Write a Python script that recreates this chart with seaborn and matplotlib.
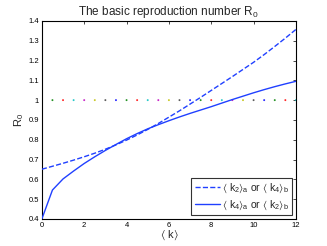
import numpy as np
import pandas as pd
import matplotlib
matplotlib.use("Agg")
import matplotlib.pyplot as plt
import seaborn as sns

# mean degree <k>, sampled every 0.5
k = np.arange(0, 12.5, 0.5)

# <k2>_a or <k4>_b (dashed)
r0_dashed = [0.651, 0.666, 0.681, 0.697, 0.714, 0.732, 0.752, 0.774, 0.798,
             0.824, 0.852, 0.882, 0.914, 0.946, 0.980, 1.014, 1.049, 1.084,
             1.119, 1.155, 1.191, 1.230, 1.271, 1.313, 1.357]
# <k4>_a or <k2>_b (solid)
r0_solid = [0.400, 0.546, 0.602, 0.642, 0.680, 0.714, 0.746, 0.776, 0.805,
            0.831, 0.855, 0.876, 0.896, 0.915, 0.933, 0.950, 0.967, 0.985,
            1.003, 1.020, 1.037, 1.053, 1.068, 1.082, 1.095]
# threshold R0 = 1
threshold = [1.0] * len(k)

label_dashed = r"$\langle$ k$_2\rangle_{\rm a}$ or $\langle$ k$_4\rangle_{\rm b}$"
label_solid = r"$\langle$ k$_4\rangle_{\rm a}$ or $\langle$ k$_2\rangle_{\rm b}$"

# old matlab colour order for the dots
dot_colors = [(0, 0, 1), (0, 0.5, 0), (1, 0, 0), (0, 0.75, 0.75),
              (0.75, 0, 0.75), (0.75, 0.75, 0), (0.25, 0.25, 0.25)]

sns.set_style("white")
plt.rcParams['font.family'] = ['Liberation Sans', 'DejaVu Sans']
plt.rcParams['mathtext.fontset'] = 'custom'
plt.rcParams['mathtext.rm'] = 'Liberation Sans'
plt.rcParams['mathtext.it'] = 'Liberation Sans'
plt.rcParams['mathtext.fallback'] = 'stixsans'

fig = plt.figure(figsize=(3.27, 2.46), dpi=100)
ax = fig.add_axes([0.128, 0.110, 0.777, 0.805])

df_dots = pd.DataFrame({'k': k, 'R0': threshold,
                        'c': [i % 7 for i in range(len(k))]})
sns.scatterplot(data=df_dots, x='k', y='R0', hue='c', palette=dot_colors,
                s=2, linewidth=0, alpha=0.85, legend=False, ax=ax, zorder=1)

line_color = '#2040ff'
sns.lineplot(x=k, y=r0_dashed, color=line_color, linestyle='--', lw=1.0,
             dashes=(3.5, 2.5), label=label_dashed, ax=ax, zorder=3)
sns.lineplot(x=k, y=r0_solid, color=line_color, lw=1.0,
             label=label_solid, ax=ax, zorder=3)

ax.set_xlim(0, 12)
ax.set_ylim(0.4, 1.4)
ax.set_xticks(np.arange(0, 13, 2))
ax.set_yticks(np.arange(0.4, 1.41, 0.1))
ax.set_yticklabels([f"{v:g}" for v in np.round(np.arange(0.4, 1.41, 0.1), 1)])
ax.tick_params(direction='in', length=2.5, width=0.5, labelsize=5.5,
               top=True, right=True, pad=2, colors='black')
for s in ax.spines.values():
    s.set_visible(True)
    s.set_color('black')
    s.set_linewidth(0.8)

ax.set_title(r"The basic reproduction number R$_0$", fontsize=8.5, pad=4)
ax.set_xlabel(r"$\langle$ k$\rangle$", fontsize=8, labelpad=0)
ax.set_ylabel(r"R$_0$", fontsize=8, labelpad=2)

leg = ax.legend(loc='lower right', fontsize=7.5, frameon=True, fancybox=False,
                handlelength=2.4, handletextpad=0.2, borderpad=0.35,
                labelspacing=0.35, borderaxespad=0.35)
leg.get_frame().set_edgecolor('black')
leg.get_frame().set_linewidth(0.8)

plt.savefig('out.png', dpi=100)
